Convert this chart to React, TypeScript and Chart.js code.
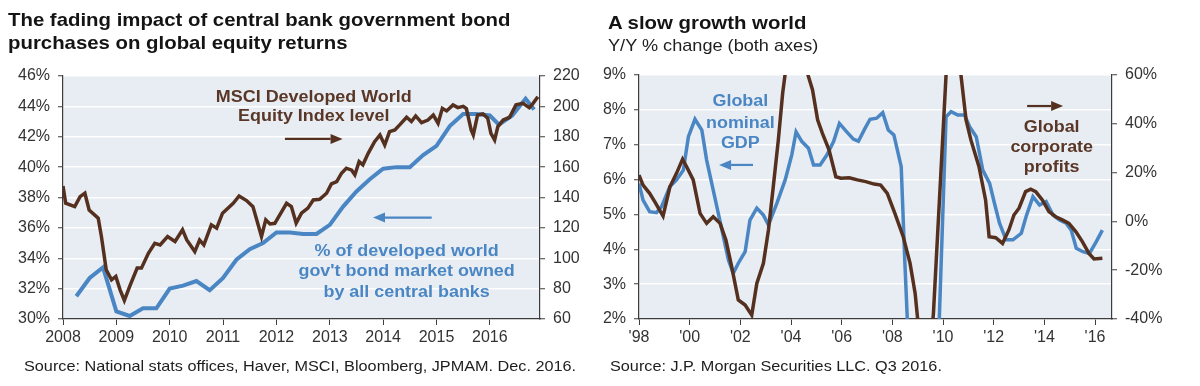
import React, { useEffect, useRef } from 'react';
import { Chart, registerables } from 'chart.js';

Chart.register(...registerables);

const FONT = '"Liberation Sans", Arial, Helvetica, sans-serif';
const BROWN = '#55301F';
const BLUE = '#4A86C4';
const PLOT_BG = '#E7EDF3';
const AXIS = '#3C3C3C';
const TICK_TEXT = '#333333';
const STRETCH = 1.12;

// ---------- Left chart data ----------
const leftYearTicks = [2008, 2009, 2010, 2011, 2012, 2013, 2014, 2015, 2016];
const leftYearLabels = ['2008', '2009', '2010', '2011', '2012', '2013', '2014', '2015', '2016'];

// % of developed world gov't bond market owned by all central banks (left axis)
const cbShareDates = [
  2008.25, 2008.5, 2008.75, 2009.0, 2009.25, 2009.5, 2009.75, 2010.0, 2010.25, 2010.5,
  2010.75, 2011.0, 2011.25, 2011.5, 2011.75, 2012.0, 2012.25, 2012.5, 2012.75, 2013.0,
  2013.25, 2013.5, 2013.75, 2014.0, 2014.25, 2014.5, 2014.75, 2015.0, 2015.25, 2015.5,
  2015.75, 2016.0, 2016.17, 2016.42, 2016.67, 2016.83,
];
const cbShareValues = [
  31.5, 32.7, 33.4, 30.5, 30.2, 30.7, 30.7, 32.0, 32.2, 32.5,
  31.9, 32.7, 33.9, 34.6, 35.0, 35.7, 35.7, 35.6, 35.6, 36.2,
  37.4, 38.4, 39.2, 39.9, 40.0, 40.0, 40.8, 41.4, 42.7, 43.5,
  43.5, 43.4, 42.8, 43.4, 44.5, 43.8,
];

// MSCI Developed World Equity Index level (right axis)
const msciDates = [
  2008.0, 2008.05, 2008.22, 2008.32, 2008.41, 2008.49, 2008.66, 2008.72, 2008.81, 2008.91,
  2008.99, 2009.07, 2009.15, 2009.25, 2009.39, 2009.47, 2009.6, 2009.72, 2009.82, 2009.96,
  2010.1, 2010.24, 2010.32, 2010.47, 2010.56, 2010.64, 2010.78, 2010.88, 2010.99, 2011.19,
  2011.3, 2011.44, 2011.56, 2011.72, 2011.8, 2011.88, 2011.97, 2012.19, 2012.28, 2012.37,
  2012.47, 2012.59, 2012.69, 2012.81, 2012.94, 2013.03, 2013.13, 2013.22, 2013.31, 2013.41,
  2013.47, 2013.55, 2013.62, 2013.72, 2013.84, 2013.94, 2014.03, 2014.12, 2014.22, 2014.31,
  2014.44, 2014.53, 2014.61, 2014.72, 2014.84, 2014.94, 2015.03, 2015.11, 2015.19, 2015.31,
  2015.4, 2015.5, 2015.56, 2015.65, 2015.69, 2015.77, 2015.87, 2015.96, 2016.02, 2016.09,
  2016.15, 2016.25, 2016.37, 2016.49, 2016.62, 2016.74, 2016.81, 2016.9,
];
const msciValues = [
  147.6, 136.3, 134.0, 140.6, 142.8, 131.8, 126.4, 114.3, 92.4, 85.8,
  88.0, 79.2, 72.2, 81.4, 93.5, 93.5, 103.3, 109.9, 108.8, 114.3,
  111.0, 118.7, 112.0, 104.4, 112.0, 108.8, 122.0, 119.8, 129.7, 136.2,
  141.0, 138.0, 134.0, 114.3, 125.3, 122.6, 123.0, 136.2, 134.0, 123.1,
  129.7, 133.0, 138.4, 138.8, 142.8, 149.0, 150.5, 156.0, 159.3, 158.0,
  154.9, 163.6, 161.5, 169.1, 176.8, 181.2, 174.6, 183.4, 184.5, 187.8,
  192.8, 190.0, 193.7, 189.3, 191.0, 194.3, 188.9, 198.7, 197.0, 201.0,
  199.2, 200.0, 198.5, 184.5, 181.2, 194.3, 195.0, 192.2, 182.3, 177.9,
  186.7, 191.0, 192.8, 201.0, 202.0, 199.2, 202.0, 206.4,
];

// ---------- Right chart data ----------
const rightYearTicks = [1998, 2000, 2002, 2004, 2006, 2008, 2010, 2012, 2014, 2016];
const rightYearLabels = ["'98", "'00", "'02", "'04", "'06", "'08", "'10", "'12", "'14", "'16"];

// Global nominal GDP, y/y % (left axis)
const gdpDates = [
  1998.0, 1998.16, 1998.42, 1998.69, 1998.89, 1999.22, 1999.48, 1999.75, 1999.95, 2000.21,
  2000.48, 2000.67, 2000.93, 2001.13, 2001.33, 2001.53, 2001.72, 2001.92, 2002.19, 2002.38,
  2002.65, 2002.91, 2003.11, 2003.44, 2003.77, 2004.03, 2004.2, 2004.43, 2004.69, 2004.89,
  2005.15, 2005.42, 2005.68, 2005.91, 2006.2, 2006.46, 2006.66, 2006.92, 2007.12, 2007.38,
  2007.62, 2007.84, 2008.06, 2008.35, 2008.49, 2009.3, 2010.12, 2010.32, 2010.58, 2010.85,
  2011.05, 2011.31, 2011.57, 2011.84, 2012.03, 2012.23, 2012.49, 2012.76, 2013.09, 2013.28,
  2013.55, 2013.81, 2014.07, 2014.34, 2014.6, 2014.86, 2015.06, 2015.26, 2015.52, 2015.78,
  2016.05, 2016.29,
];
const gdpValues = [
  5.89, 5.41, 5.08, 5.05, 5.22, 5.8, 5.99, 6.27, 7.23, 7.73,
  7.42, 6.56, 5.7, 5.03, 4.36, 3.69, 3.31, 3.6, 3.93, 4.84,
  5.18, 4.98, 4.7, 5.32, 5.99, 6.71, 7.37, 7.09, 6.9, 6.42,
  6.42, 6.71, 7.09, 7.61, 7.37, 7.16, 7.1, 7.47, 7.73, 7.76,
  7.92, 7.42, 7.28, 6.37, 3.69, -10.0, 7.8, 7.95, 7.85, 7.85,
  7.52, 7.23, 6.27, 5.89, 5.32, 4.75, 4.27, 4.27, 4.46, 4.94,
  5.51, 5.27, 5.37, 4.98, 4.84, 4.75, 4.55, 4.03, 3.93, 3.88,
  4.22, 4.55,
];

// Global corporate profits, y/y % (right axis)
const profitDates = [
  1998.0, 1998.16, 1998.42, 1998.62, 1998.95, 1999.22, 1999.48, 1999.72, 1999.88, 2000.14,
  2000.41, 2000.67, 2000.93, 2001.2, 2001.43, 2001.66, 2001.92, 2002.19, 2002.45, 2002.65,
  2002.91, 2003.11, 2003.3, 2003.5, 2003.67, 2004.2, 2004.65, 2004.85, 2005.05, 2005.24,
  2005.5, 2005.77, 2005.97, 2006.3, 2006.62, 2006.95, 2007.28, 2007.54, 2007.8, 2008.1,
  2008.43, 2008.7, 2008.9, 2009.3, 2009.62, 2010.12, 2010.4, 2010.7, 2010.91, 2011.1,
  2011.42, 2011.68, 2011.82, 2012.08, 2012.35, 2012.6, 2012.8, 2013.0, 2013.26, 2013.46,
  2013.66, 2013.92, 2014.18, 2014.45, 2014.71, 2014.97, 2015.24, 2015.5, 2015.76, 2015.96,
  2016.29,
];
const profitValues = [
  19.0, 14.9, 11.5, 8.1, 2.2, 14.2, 19.7, 25.5, 22.4, 17.0,
  3.3, -0.8, 1.9, -0.8, -7.6, -18.6, -32.2, -34.3, -38.4, -25.4,
  -17.2, -3.5, 14.2, 33.4, 52.5, 95.0, 60.7, 53.9, 41.6, 36.1,
  29.3, 18.3, 17.7, 17.9, 17.0, 16.3, 15.3, 14.9, 11.5, 3.3,
  -6.3, -17.2, -29.5, -72.0, -38.0, 60.0, 85.0, 60.7, 41.6, 33.4,
  22.4, 8.8, -6.3, -6.7, -9.0, -3.5, 2.6, 5.4, 12.2, 13.2,
  12.2, 8.8, 4.0, 1.9, 0.6, -0.8, -4.2, -8.3, -13.1, -15.4,
  -15.1,
];

const toPoints = (xs: number[], ys: number[]) => xs.map((x, i) => ({ x, y: ys[i] }));

// ---------- Plugins ----------
const plotBgPlugin = {
  id: 'plotBg',
  beforeDraw(chart: any) {
    const { ctx, chartArea } = chart;
    if (!chartArea) return;
    ctx.save();
    ctx.fillStyle = PLOT_BG;
    ctx.fillRect(chartArea.left, chartArea.top, chartArea.right - chartArea.left, chartArea.bottom - chartArea.top);
    ctx.restore();
  },
};

const notesPlugin = {
  id: 'notes',
  afterDatasetsDraw(chart: any, _args: any, opts: any) {
    const ctx = chart.ctx;
    const xs = chart.scales.x;
    const ys = chart.scales.y;
    (opts.texts || []).forEach((t: any) => {
      ctx.save();
      ctx.fillStyle = t.color;
      ctx.font = `bold ${t.size}px ${FONT}`;
      ctx.textAlign = 'center';
      ctx.textBaseline = 'middle';
      t.lines.forEach((line: string, i: number) => {
        const px = xs.getPixelForValue(t.x);
        const py = ys.getPixelForValue(t.y[i]);
        ctx.save();
        ctx.translate(px, py);
        ctx.scale(STRETCH, 1);
        ctx.fillText(line, 0, 0);
        ctx.restore();
      });
      ctx.restore();
    });
    (opts.arrows || []).forEach((a: any) => {
      const x1 = xs.getPixelForValue(a.from);
      const x2 = xs.getPixelForValue(a.to);
      const y = ys.getPixelForValue(a.y);
      const dir = Math.sign(x2 - x1);
      const head = 12;
      ctx.save();
      ctx.strokeStyle = a.color;
      ctx.fillStyle = a.color;
      ctx.lineWidth = 2.2;
      ctx.beginPath();
      ctx.moveTo(x1, y);
      ctx.lineTo(x2 - dir * head, y);
      ctx.stroke();
      ctx.beginPath();
      ctx.moveTo(x2, y);
      ctx.lineTo(x2 - dir * head, y - 5);
      ctx.lineTo(x2 - dir * head, y + 5);
      ctx.closePath();
      ctx.fill();
      ctx.restore();
    });
  },
};

const tickFont = { family: FONT, size: 16 };

function yAxis(position: 'left' | 'right', min: number, max: number, step: number, width: number, suffix: string, grid: boolean) {
  return {
    type: 'linear',
    position,
    min,
    max,
    afterFit: (s: any) => { s.width = width; },
    ticks: {
      stepSize: step,
      padding: 8,
      color: TICK_TEXT,
      font: tickFont,
      callback: (v: any) => `${v}${suffix}`,
    },
    grid: {
      color: grid ? '#FFFFFF' : 'rgba(0,0,0,0)',
      lineWidth: 1.5,
      tickColor: AXIS,
      tickLength: 5,
      tickWidth: 1,
    },
    border: { color: AXIS, width: 1.2 },
  };
}

function xAxis(min: number, max: number, values: number[], labels: string[]) {
  return {
    type: 'linear',
    position: 'bottom',
    min,
    max,
    afterFit: (s: any) => { s.height = 67; },
    afterBuildTicks: (s: any) => { s.ticks = values.map((v) => ({ value: v })); },
    ticks: {
      padding: 3,
      color: TICK_TEXT,
      font: tickFont,
      maxRotation: 0,
      autoSkip: false,
      callback: (_v: any, i: number) => labels[i],
    },
    grid: {
      drawOnChartArea: false,
      tickColor: AXIS,
      tickLength: 6,
      tickWidth: 1,
    },
    border: { color: AXIS, width: 1.2 },
  };
}

function useChart(ref: React.RefObject<HTMLCanvasElement>, build: () => any) {
  useEffect(() => {
    if (!ref.current) return;
    const chart = new Chart(ref.current, build());
    return () => chart.destroy();
  }, []);
}

function LeftChart() {
  const ref = useRef<HTMLCanvasElement>(null);
  useChart(ref, () => ({
    type: 'line',
    data: {
      datasets: [
        {
          label: 'MSCI Developed World Equity Index level',
          data: toPoints(msciDates, msciValues),
          yAxisID: 'y1',
          borderColor: BROWN,
          borderWidth: 3.5,
          pointRadius: 0,
          tension: 0,
          order: 0,
        },
        {
          label: "% of developed world gov't bond market owned by all central banks",
          data: toPoints(cbShareDates, cbShareValues),
          yAxisID: 'y',
          borderColor: BLUE,
          borderWidth: 4,
          pointRadius: 0,
          tension: 0,
          order: 1,
        },
      ],
    },
    options: {
      animation: false,
      responsive: false,
      layout: { padding: { top: 76, left: 0, right: 0, bottom: 0 } },
      plugins: {
        legend: { display: false },
        tooltip: { enabled: false },
        notes: {
          texts: [
            { lines: ['MSCI Developed World', 'Equity Index level'], x: 2012.7, y: [44.6, 43.3], color: '#5A3626', size: 16 },
            { lines: ['% of developed world', "gov't bond market owned", 'by all central banks'], x: 2014.44, y: [34.45, 33.1, 31.75], color: BLUE, size: 16 },
          ],
          arrows: [
            { from: 2012.16, to: 2013.24, y: 41.86, color: BROWN },
            { from: 2014.91, to: 2013.81, y: 36.68, color: BLUE },
          ],
        },
      },
      scales: {
        x: xAxis(2008, 2016.94, leftYearTicks, leftYearLabels),
        y: yAxis('left', 30, 46, 2, 63, '%', true),
        y1: yAxis('right', 60, 220, 20, 60, '', false),
      },
    },
    plugins: [plotBgPlugin, notesPlugin],
  }));
  return <canvas ref={ref} width={600} height={386} style={{ position: 'absolute', left: 0, top: 0, width: 600, height: 386 }} />;
}

function RightChart() {
  const ref = useRef<HTMLCanvasElement>(null);
  useChart(ref, () => ({
    type: 'line',
    data: {
      datasets: [
        {
          label: 'Global corporate profits',
          data: toPoints(profitDates, profitValues),
          yAxisID: 'y1',
          borderColor: BROWN,
          borderWidth: 3.5,
          pointRadius: 0,
          tension: 0,
          order: 0,
        },
        {
          label: 'Global nominal GDP',
          data: toPoints(gdpDates, gdpValues),
          yAxisID: 'y',
          borderColor: BLUE,
          borderWidth: 3.5,
          pointRadius: 0,
          tension: 0,
          order: 1,
        },
      ],
    },
    options: {
      animation: false,
      responsive: false,
      layout: { padding: { top: 75, left: 0, right: 0, bottom: 0 } },
      plugins: {
        legend: { display: false },
        tooltip: { enabled: false },
        notes: {
          texts: [
            { lines: ['Global', 'nominal', 'GDP'], x: 2002.0, y: [8.23, 7.62, 7.02], color: BLUE, size: 16 },
            { lines: ['Global', 'corporate', 'profits'], x: 2014.29, y: [7.49, 6.91, 6.33], color: '#5A3626', size: 16 },
          ],
          arrows: [
            { from: 2002.5, to: 2001.16, y: 6.42, color: BLUE },
            { from: 2013.32, to: 2014.74, y: 8.11, color: BROWN },
          ],
        },
      },
      scales: {
        x: xAxis(1998, 2016.67, rightYearTicks, rightYearLabels),
        y: yAxis('left', 2, 9, 1, 39, '%', true),
        y1: yAxis('right', -40, 60, 20, 88, '%', false),
      },
    },
    plugins: [plotBgPlugin, notesPlugin],
  }));
  return <canvas ref={ref} width={600} height={386} style={{ position: 'absolute', left: 600, top: 0, width: 600, height: 386 }} />;
}

const stretchStyle = (left: number, top: number, size: number, bold: boolean, lh: number): React.CSSProperties => ({
  position: 'absolute',
  left,
  top,
  fontFamily: FONT,
  fontSize: size,
  fontWeight: bold ? 700 : 400,
  lineHeight: `${lh}px`,
  color: bold ? '#141414' : '#1E1E1E',
  whiteSpace: 'nowrap',
  transform: `scaleX(${STRETCH})`,
  transformOrigin: '0 0',
});

export default function App() {
  return (
    <div style={{ position: 'absolute', left: 0, top: 0, width: 1200, height: 386, background: '#FFFFFF', overflow: 'hidden' }}>
      <LeftChart />
      <RightChart />
      <div style={stretchStyle(8, 9, 18.2, true, 23)}>
        The fading impact of central bank government bond
        <br />
        purchases on global equity returns
      </div>
      <div style={stretchStyle(608, 12, 18.2, true, 23)}>A slow growth world</div>
      <div style={stretchStyle(608, 35, 16.2, false, 20)}>Y/Y % change (both axes)</div>
      <div style={stretchStyle(24, 357, 14.5, false, 18)}>
        Source: National stats offices, Haver, MSCI, Bloomberg, JPMAM. Dec. 2016.
      </div>
      <div style={stretchStyle(610, 357, 14.5, false, 18)}>Source: J.P. Morgan Securities LLC. Q3 2016.</div>
    </div>
  );
}
